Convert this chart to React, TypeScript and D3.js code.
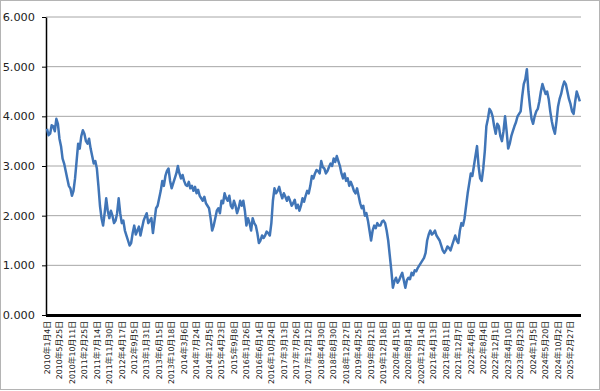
import * as d3 from "d3";
import { useEffect, useRef } from "react";

const WIDTH = 600;
const HEIGHT = 391;

// category labels shown on the x axis (every ~95 trading days)
const DATE_LABELS = [
  "2010年1月4日", "2010年5月25日", "2010年10月11日", "2011年2月25日", "2011年7月14日",
  "2011年11月30日", "2012年4月17日", "2012年9月5日", "2013年1月31日", "2013年6月15日",
  "2013年10月18日", "2014年3月6日", "2014年7月24日", "2014年12月5日", "2015年4月23日",
  "2015年9月8日", "2016年1月26日", "2016年6月14日", "2016年10月24日", "2017年3月13日",
  "2017年7月26日", "2017年12月12日", "2018年4月30日", "2018年8月30日", "2018年12月27日",
  "2019年4月25日", "2019年8月21日", "2019年12月18日", "2020年4月15日", "2020年8月14日",
  "2020年12月14日", "2021年4月13日", "2021年8月11日", "2021年12月7日", "2022年4月6日",
  "2022年8月4日", "2022年12月1日", "2023年4月10日", "2023年8月23日", "2024年1月5日",
  "2024年5月20日", "2024年10月2日", "2025年2月27日",
];

// samples per label interval
const STEP = 8;

// series, STEP samples per label interval
const VALUES = [
  3.75, 3.62, 3.65, 3.82, 3.8, 3.7, 3.95, 3.85, 3.55, 3.4,
  3.15, 3.05, 2.9, 2.75, 2.6, 2.55, 2.4, 2.5, 2.75, 3.1,
  3.45, 3.35, 3.6, 3.72, 3.65, 3.5, 3.45, 3.55, 3.35, 3.2,
  3.05, 3.1, 2.95, 2.6, 2.2, 1.95, 1.8, 2.05, 2.35, 2.1,
  1.95, 2.1, 2.0, 1.85, 1.9, 2.05, 2.35, 2.05, 1.85, 1.9,
  1.7, 1.6, 1.5, 1.4, 1.45, 1.65, 1.8, 1.62, 1.7, 1.78,
  1.6, 1.75, 1.9, 1.98, 2.05, 1.85, 1.9, 1.95, 1.65, 1.9,
  2.15, 2.2, 2.35, 2.5, 2.7, 2.6, 2.8, 2.9, 2.95, 2.7,
  2.55, 2.65, 2.75, 2.85, 3.0, 2.85, 2.75, 2.82, 2.7, 2.62,
  2.6, 2.68, 2.55, 2.6, 2.5, 2.58, 2.45, 2.52, 2.4, 2.35,
  2.3, 2.38, 2.25, 2.2, 2.15, 1.95, 1.7, 1.8, 1.95, 2.1,
  2.15, 2.05, 2.3, 2.25, 2.45, 2.35, 2.3, 2.4, 2.2, 2.15,
  2.3, 2.2, 2.05, 2.15, 2.3, 2.2, 2.3, 2.1, 1.8, 1.95,
  1.85, 1.7, 1.95, 1.85, 1.8, 1.65, 1.45, 1.5, 1.6, 1.55,
  1.6, 1.68, 1.65, 1.6, 1.85, 2.3, 2.55, 2.45, 2.5, 2.58,
  2.45, 2.35, 2.45, 2.38, 2.3, 2.38, 2.3, 2.2, 2.25, 2.32,
  2.15, 2.22, 2.1, 2.2, 2.35, 2.28, 2.4, 2.5, 2.45, 2.6,
  2.8, 2.75, 2.85, 2.92, 2.9, 2.85, 3.1, 2.98, 2.95, 2.85,
  2.9, 2.98, 3.05, 3.0, 3.15, 3.08, 3.2, 3.1, 3.0, 2.85,
  2.75, 2.85, 2.7, 2.75, 2.6, 2.68, 2.6, 2.5, 2.45, 2.55,
  2.4, 2.25, 2.15, 2.2, 2.0, 2.05, 1.9, 1.7, 1.5, 1.7,
  1.8, 1.75, 1.85, 1.8, 1.8, 1.88, 1.9, 1.85, 1.7, 1.5,
  1.2, 0.9, 0.55, 0.68, 0.75, 0.65, 0.7, 0.78, 0.85, 0.7,
  0.55, 0.7, 0.75, 0.72, 0.85, 0.8, 0.9, 0.88, 0.95, 1.0,
  1.05, 1.1, 1.15, 1.25, 1.5, 1.62, 1.7, 1.62, 1.65, 1.7,
  1.6, 1.55, 1.5, 1.4, 1.3, 1.25, 1.3, 1.38, 1.35, 1.3,
  1.4, 1.5, 1.6, 1.5, 1.45, 1.7, 1.85, 1.8, 1.95, 2.2,
  2.45, 2.65, 2.85, 2.8, 3.0, 3.2, 3.4, 3.0, 2.75, 2.7,
  2.95, 3.3, 3.8, 3.95, 4.15, 4.1, 4.0, 3.8, 3.65, 3.85,
  3.8, 3.6, 3.5, 3.7, 4.0, 3.7, 3.35, 3.45, 3.6, 3.7,
  3.8, 3.88, 4.0, 4.05, 4.1, 4.4, 4.65, 4.75, 4.95, 4.5,
  4.2, 3.95, 3.85, 4.0, 4.1, 4.15, 4.3, 4.5, 4.65, 4.55,
  4.45, 4.5, 4.35, 4.1, 3.9, 3.75, 3.65, 3.9, 4.2, 4.35,
  4.45, 4.6, 4.7, 4.65, 4.5, 4.35, 4.25, 4.1, 4.05, 4.3,
  4.5, 4.4, 4.3,
];

const Y_TICKS = [0, 1, 2, 3, 4, 5, 6];

export default function App() {
  const svgRef = useRef<SVGSVGElement>(null);

  useEffect(() => {
    if (!svgRef.current) return;
    const svg = d3.select(svgRef.current);
    svg.selectAll("*").remove();

    const left = 46;
    const right = 581;
    const top = 17;
    const bottom = 315;

    svg
      .append("rect")
      .attr("x", 0.5)
      .attr("y", 0.5)
      .attr("width", WIDTH - 1)
      .attr("height", 389)
      .attr("fill", "#fff")
      .attr("stroke", "#b4b4b4");

    const x = d3
      .scaleLinear()
      .domain([0, (DATE_LABELS.length - 1) * STEP])
      .range([47, 570.5]);
    const y = d3.scaleLinear().domain([0, 6]).range([bottom, top]);

    // grid
    svg
      .append("g")
      .selectAll("line")
      .data(Y_TICKS.filter((t) => t > 0))
      .join("line")
      .attr("x1", left)
      .attr("x2", right)
      .attr("y1", (d) => y(d))
      .attr("y2", (d) => y(d))
      .attr("stroke", "#a6a6a6")
      .attr("stroke-width", 1);

    // y axis
    const yAxis = svg
      .append("g")
      .attr("transform", `translate(${left},0)`)
      .call(
        d3
          .axisLeft(y)
          .tickValues(Y_TICKS)
          .tickSize(4)
          .tickSizeOuter(0)
          .tickPadding(7)
          .tickFormat((d) => d3.format(".3f")(d as number)),
      );
    yAxis.select(".domain").attr("stroke", "#000").attr("stroke-width", 1.5);
    yAxis.selectAll(".tick line").attr("stroke", "#000");
    yAxis
      .selectAll("text")
      .attr("fill", "#222")
      .style("font-family", "'DejaVu Sans', Verdana, sans-serif")
      .style("font-size", "11.3px");

    // series line
    const line = d3
      .line<number>()
      .x((_, i) => x(i))
      .y((d) => y(d));
    svg
      .append("path")
      .datum(VALUES)
      .attr("fill", "none")
      .attr("stroke", "#4075b7")
      .attr("stroke-width", 2.5)
      .attr("stroke-linejoin", "round")
      .attr("d", line);

    // x axis baseline
    svg
      .append("line")
      .attr("x1", left)
      .attr("x2", right)
      .attr("y1", bottom + 0.5)
      .attr("y2", bottom + 0.5)
      .attr("stroke", "#000")
      .attr("stroke-width", 3);

    // x labels
    svg
      .append("g")
      .selectAll("text")
      .data(DATE_LABELS)
      .join("text")
      .attr("transform", (_, i) => `translate(${x(i * STEP)},321) rotate(-90)`)
      .attr("text-anchor", "end")
      .attr("dy", "0.35em")
      .attr("fill", "#222")
      .style("font-family", "'DejaVu Sans', 'Noto Sans CJK SC', sans-serif")
      .style("font-size", "7.8px")
      .text((d) => d);
  }, []);

  return (
    <svg
      ref={svgRef}
      width={WIDTH}
      height={HEIGHT}
      style={{ position: "absolute", left: 0, top: 0 }}
    />
  );
}
